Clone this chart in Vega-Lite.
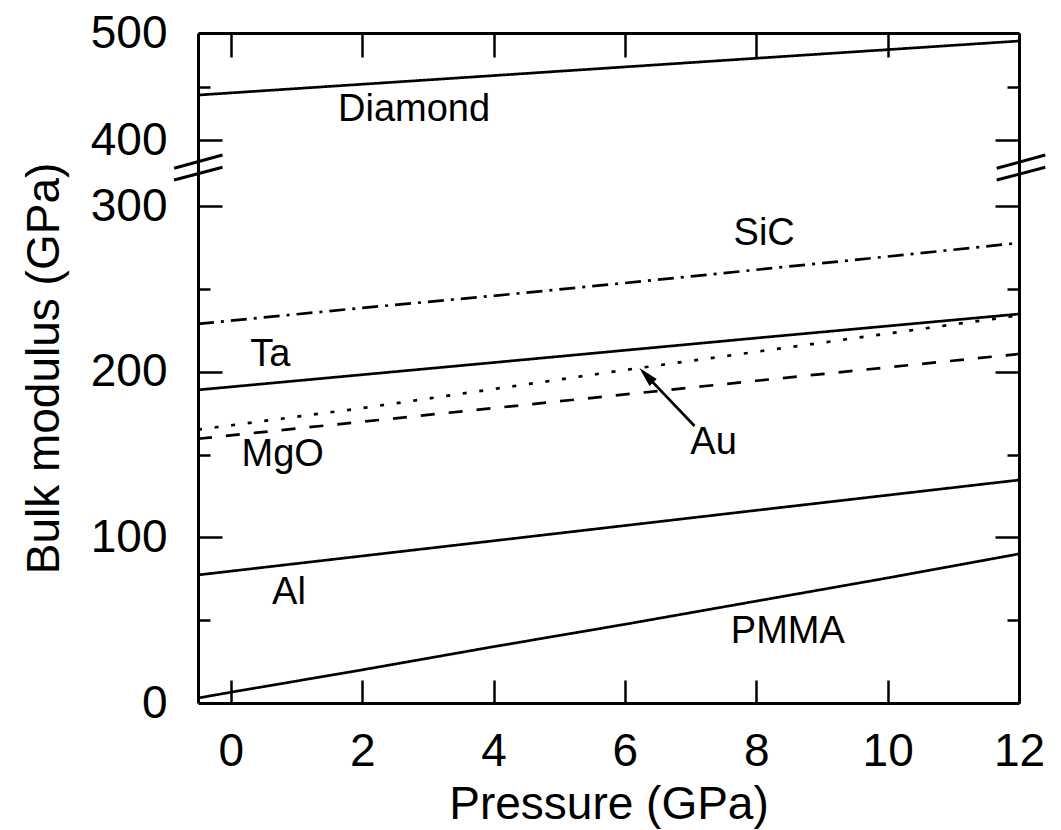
{
  "$schema": "https://vega.github.io/schema/vega-lite/v6.json",
  "width": 821,
  "height": 670,
  "autosize": {"type": "none"},
  "padding": {"left": 198, "top": 33, "right": 42, "bottom": 127},
  "background": "white",
  "config": {
    "view": {"stroke": null},
    "axis": {
      "domainColor": "black", "domainWidth": 3, "tickColor": "black", "tickWidth": 2.5,
      "labelFont": "Liberation Sans", "titleFont": "Liberation Sans",
      "labelColor": "black", "titleColor": "black", "labelFontSize": 46,
      "titleFontSize": 46, "titleFontWeight": "normal", "grid": false
    }
  },
  "datasets": {
    "curves": [
      {"series": "Diamond", "P": -0.5, "B": 442}, {"series": "Diamond", "P": 4, "B": 460.2}, {"series": "Diamond", "P": 8, "B": 476.4}, {"series": "Diamond", "P": 12, "B": 492.5},
      {"series": "SiC", "P": -0.5, "B": 228.8}, {"series": "SiC", "P": 0, "B": 230.8}, {"series": "SiC", "P": 2, "B": 238.5}, {"series": "SiC", "P": 4, "B": 245.8}, {"series": "SiC", "P": 6, "B": 253.5}, {"series": "SiC", "P": 8, "B": 261.5}, {"series": "SiC", "P": 10, "B": 269.5}, {"series": "SiC", "P": 12, "B": 277.7},
      {"series": "Ta", "P": -0.5, "B": 189}, {"series": "Ta", "P": 4, "B": 205.5}, {"series": "Ta", "P": 8, "B": 220.3}, {"series": "Ta", "P": 12, "B": 234.8},
      {"series": "Au", "P": -0.5, "B": 165}, {"series": "Au", "P": 2, "B": 178}, {"series": "Au", "P": 4, "B": 189.5}, {"series": "Au", "P": 6, "B": 201}, {"series": "Au", "P": 8, "B": 212}, {"series": "Au", "P": 10, "B": 223}, {"series": "Au", "P": 12, "B": 234},
      {"series": "MgO", "P": -0.5, "B": 159.5}, {"series": "MgO", "P": 4, "B": 178}, {"series": "MgO", "P": 8, "B": 194.5}, {"series": "MgO", "P": 12, "B": 210.7},
      {"series": "Al", "P": -0.5, "B": 77.3}, {"series": "Al", "P": 4, "B": 97.9}, {"series": "Al", "P": 8, "B": 116.3}, {"series": "Al", "P": 12, "B": 134.6},
      {"series": "PMMA", "P": -0.5, "B": 3}, {"series": "PMMA", "P": 0, "B": 6.5}, {"series": "PMMA", "P": 2, "B": 20}, {"series": "PMMA", "P": 4, "B": 34}, {"series": "PMMA", "P": 6, "B": 47.5}, {"series": "PMMA", "P": 8, "B": 61.5}, {"series": "PMMA", "P": 10, "B": 75.5}, {"series": "PMMA", "P": 12, "B": 90}
    ],
    "labels": [
      {"label": "Diamond", "P": 2.79, "B": 428},
      {"label": "SiC", "P": 8.12, "B": 283},
      {"label": "Ta", "P": 0.6, "B": 210},
      {"label": "MgO", "P": 0.79, "B": 149.7},
      {"label": "Au", "P": 7.35, "B": 156.9},
      {"label": "Al", "P": 0.885, "B": 66.4},
      {"label": "PMMA", "P": 8.48, "B": 42.9}
    ],
    "arrow": [
      {"P": 7.06, "B": 167.2, "P2": 6.325, "B2": 197.8}
    ],
    "breaks": [
      {"P": -0.864, "B": 357.1, "P2": -0.127, "B2": 377.3},
      {"P": -0.864, "B": 339.4, "P2": -0.127, "B2": 358.6},
      {"P": 11.66, "B": 357.1, "P2": 12.4, "B2": 377.3},
      {"P": 11.66, "B": 339.4, "P2": 12.4, "B2": 358.6}
    ]
  },
  "resolve": {"axis": {"x": "independent", "y": "independent"}},
  "layer": [
    {
      "data": {"name": "curves"},
      "mark": {"type": "line", "color": "black", "strokeWidth": 2.7},
      "encoding": {
        "x": {"field": "P", "type": "quantitative",
          "scale": {"domain": [-0.5, 12], "nice": false, "zero": false},
          "axis": {"orient": "bottom", "values": [0, 2, 4, 6, 8, 10, 12], "ticks": false, "tickSize": 0, "labelPadding": 26, "labelFlush": false, "labelOverlap": false, "domain": true, "title": "Pressure (GPa)", "titlePadding": 8}},
        "y": {"field": "B", "type": "quantitative",
          "scale": {"domain": [0, 300, 400, 500], "range": [670, 173, 107, 0], "nice": false, "zero": false},
          "axis": {"orient": "left", "values": [0, 100, 200, 300, 400, 500], "ticks": false, "tickSize": 0, "labelPadding": 31, "labelOverlap": false, "domain": true, "title": "Bulk modulus (GPa)", "titlePadding": 22}},
        "strokeDash": {"field": "series", "type": "nominal", "legend": null,
          "scale": {"domain": ["Diamond", "SiC", "Ta", "Au", "MgO", "Al", "PMMA"],
                    "range": [[1, 0], [16, 7, 3, 7], [1, 0], [4, 12.7], [14, 14], [1, 0], [1, 0]]}}
      }
    },
    {
      "data": {"name": "labels"},
      "mark": {"type": "text", "font": "Liberation Sans", "fontSize": 38, "color": "black", "align": "center", "baseline": "middle"},
      "encoding": {
        "x": {"field": "P", "type": "quantitative",
          "scale": {"domain": [-0.5, 12], "nice": false, "zero": false},
          "axis": {"orient": "top", "values": [0, 2, 4, 6, 8, 10, 12], "tickSize": -24, "labels": false, "domain": true, "title": null}},
        "y": {"field": "B", "type": "quantitative",
          "scale": {"domain": [0, 300, 400, 500], "range": [670, 173, 107, 0], "nice": false, "zero": false},
          "axis": {"orient": "left", "values": [100, 200, 300, 400], "tickSize": -24, "labels": false, "domain": false, "title": null}},
        "text": {"field": "label", "type": "nominal"}
      }
    },
    {
      "data": {"name": "arrow"},
      "mark": {"type": "rule", "color": "black", "strokeWidth": 2.7},
      "encoding": {
        "x": {"field": "P", "type": "quantitative",
          "scale": {"domain": [-0.5, 12], "nice": false, "zero": false},
          "axis": {"orient": "bottom", "values": [0, 2, 4, 6, 8, 10, 12], "tickSize": -23, "labels": false, "domain": false, "title": null}},
        "y": {"field": "B", "type": "quantitative",
          "scale": {"domain": [0, 300, 400, 500], "range": [670, 173, 107, 0], "nice": false, "zero": false},
          "axis": {"orient": "left", "values": [50, 150, 250, 450], "tickSize": -12, "labels": false, "domain": false, "title": null}},
        "x2": {"field": "P2"},
        "y2": {"field": "B2"}
      }
    },
    {
      "data": {"name": "arrow"},
      "mark": {"type": "point", "shape": "M0,-1L0.5,1L-0.5,1Z", "filled": true, "color": "black", "opacity": 1, "size": 400, "angle": 316.5},
      "encoding": {
        "x": {"field": "P2", "type": "quantitative",
          "scale": {"domain": [-0.5, 12], "nice": false, "zero": false}, "axis": null},
        "y": {"field": "B2", "type": "quantitative",
          "scale": {"domain": [0, 300, 400, 500], "range": [670, 173, 107, 0], "nice": false, "zero": false},
          "axis": {"orient": "right", "values": [100, 200, 300, 400], "tickSize": -24, "labels": false, "domain": true, "title": null}}
      }
    },
    {
      "data": {"name": "breaks"},
      "mark": {"type": "rule", "color": "black", "strokeWidth": 3},
      "encoding": {
        "x": {"field": "P", "type": "quantitative",
          "scale": {"domain": [-0.5, 12], "nice": false, "zero": false}, "axis": null},
        "y": {"field": "B", "type": "quantitative",
          "scale": {"domain": [0, 300, 400, 500], "range": [670, 173, 107, 0], "nice": false, "zero": false},
          "axis": {"orient": "right", "values": [50, 150, 250, 450], "tickSize": -12, "labels": false, "domain": false, "title": null}},
        "x2": {"field": "P2"},
        "y2": {"field": "B2"}
      }
    }
  ]
}
